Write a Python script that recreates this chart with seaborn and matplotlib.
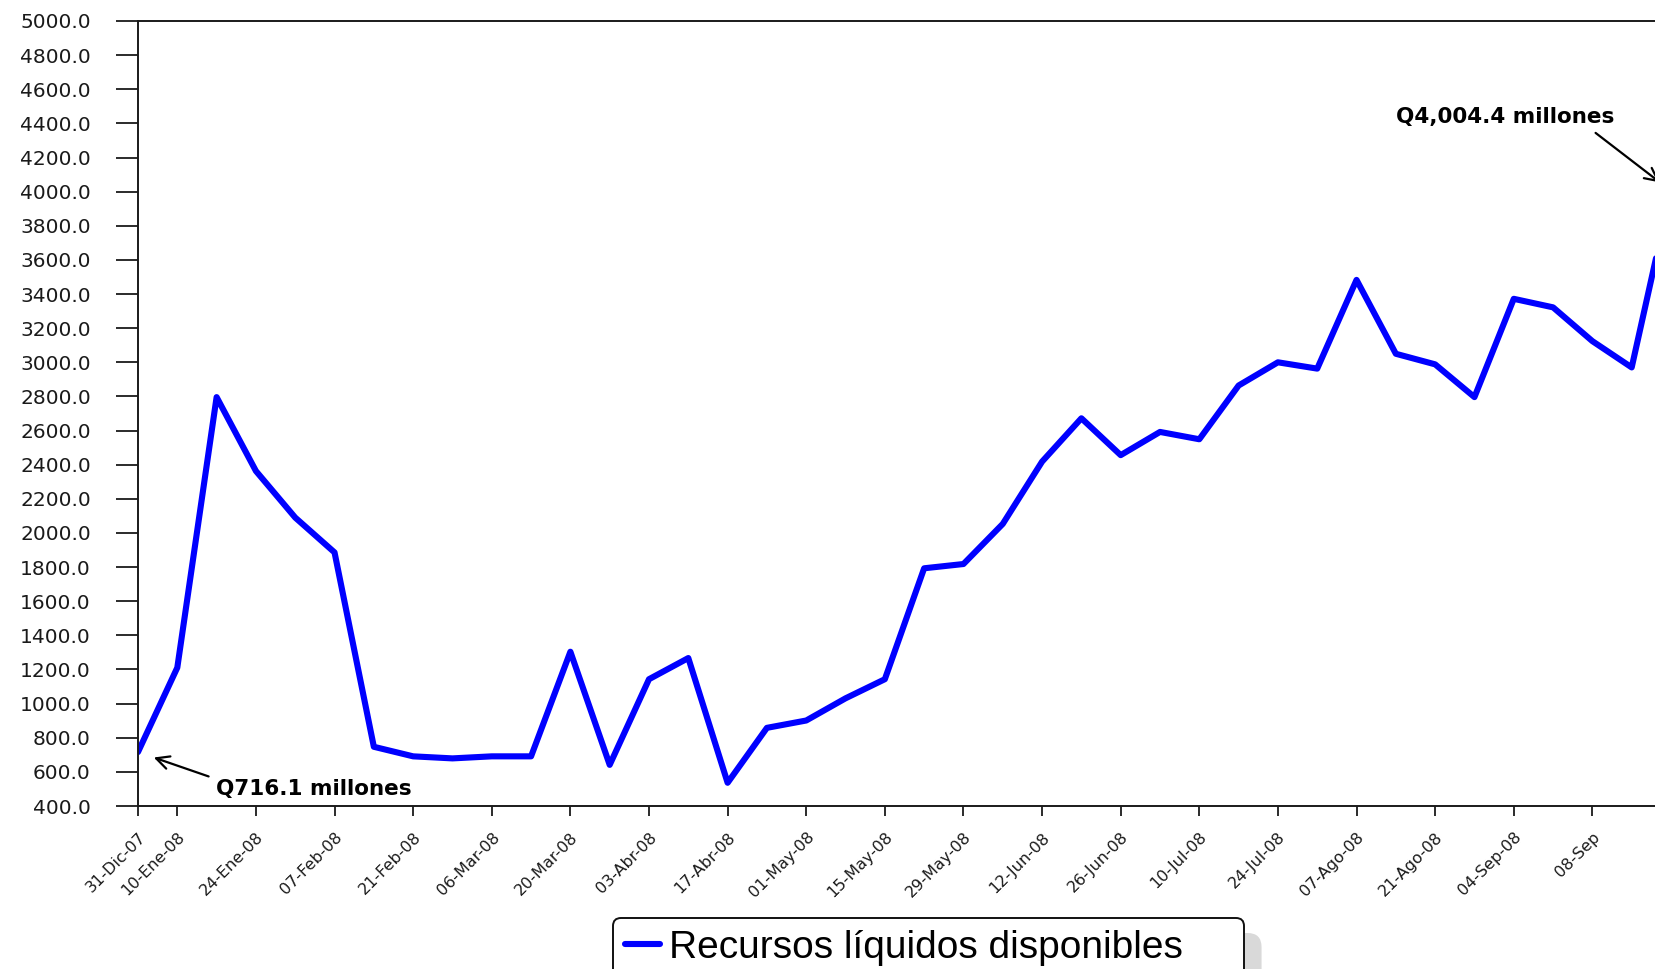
"""
Recursos liquidos disponibles - serie 2008
"""
import matplotlib
matplotlib.use("Agg")
import matplotlib.pyplot as plt
import numpy as np
import pandas as pd
import seaborn as sns
from matplotlib.patches import FancyBboxPatch

# Data (millones de quetzales), one value per observation
valores = [716.1, 1211, 2796, 2363, 2090, 1886, 747, 691, 679, 691,
           691, 1304, 641, 1143, 1267, 536, 858, 901, 1031, 1143,
           1793, 1818, 2053, 2418, 2672, 2456, 2592, 2549, 2864, 3000,
           2963, 3483, 3050, 2988, 2796, 3372, 3322, 3124, 2970, 4004.4]

tick_idx = [0, 1, 3, 5, 7, 9, 11, 13, 15, 17, 19, 21, 23, 25, 27, 29, 31, 33, 35, 37]
tick_labels = ["31-Dic-07", "10-Ene-08", "24-Ene-08", "07-Feb-08", "21-Feb-08",
               "06-Mar-08", "20-Mar-08", "03-Abr-08", "17-Abr-08", "01-May-08",
               "15-May-08", "29-May-08", "12-Jun-08", "26-Jun-08", "10-Jul-08",
               "24-Jul-08", "07-Ago-08", "21-Ago-08", "04-Sep-08", "08-Sep"]

serie = "Recursos líquidos disponibles"

sns.set_theme(style="ticks")
plt.rcParams['font.family'] = ['DejaVu Sans']
plt.rcParams['text.color'] = 'black'

df = pd.DataFrame({"idx": np.arange(len(valores)), "valor": valores})

W, H = 1656, 969
fig = plt.figure(figsize=(W / 100, H / 100), dpi=100)
fig.patch.set_facecolor("white")

# axes run past the right edge, as in the cropped original
ax = fig.add_axes([138 / W, 1 - 806 / H, (1671 - 138) / W, (806 - 21) / H])

sns.lineplot(data=df, x="idx", y="valor", color="#0000FF", linewidth=4.4,
             ax=ax, label=serie)

ax.set_xlim(0, len(valores) - 1)
ax.set_ylim(400, 5000)
ax.set_yticks(np.arange(400, 5001, 200))
ax.set_yticklabels([f"{v:.1f}" for v in np.arange(400, 5001, 200)],
                   fontsize=14.5, color="#1a1a1a")
ax.set_xticks(tick_idx)
ax.set_xticklabels(tick_labels, rotation=45, ha="right", va="top",
                   rotation_mode="anchor", fontsize=11.5, color="#1a1a1a")
ax.set_xlabel("")
ax.set_ylabel("")

for side in ["left", "top", "bottom", "right"]:
    ax.spines[side].set_color("#1a1a1a")
    ax.spines[side].set_linewidth(1.4)

ax.tick_params(axis="y", length=16, width=1.3, pad=18, color="#1a1a1a")
ax.tick_params(axis="x", length=7, width=1.3, pad=10, color="#1a1a1a")

# annotations
ax.annotate("Q716.1 millones", xy=(0, 716.1), xytext=(1.98, 500),
            ha="left", va="center", fontsize=15.5, fontweight="bold", color="black",
            arrowprops=dict(arrowstyle="->,head_length=0.6,head_width=0.3",
                            color="black", lw=1.6, shrinkA=3, shrinkB=12,
                            relpos=(0, 1)))
ax.annotate("Q4,004.4 millones", xy=(39, 4004.4), xytext=(32.0, 4437),
            ha="left", va="center", fontsize=15.5, fontweight="bold", color="black",
            arrowprops=dict(arrowstyle="->,head_length=0.6,head_width=0.3",
                            color="black", lw=1.6, shrinkA=3, shrinkB=10,
                            relpos=(0.88, 0)))

# legend at the bottom, partly cut off
ax.legend_.remove()
leg = fig.legend(loc="upper left", bbox_to_anchor=(613 / W, 1 - 918 / H),
                 frameon=True, fancybox=True, handlelength=0.9, handletextpad=0.25,
                 borderpad=0.3, borderaxespad=0,
                 prop={"family": "Liberation Sans", "size": 28})
leg.get_texts()[0].set_text(serie + "\u2003\u2005")
leg.get_texts()[0].set_color("black")
frame = leg.get_frame()
frame.set_edgecolor("#111111")
frame.set_linewidth(1.4)
frame.set_alpha(1)
for line in leg.get_lines():
    line.set_linewidth(4.4)

# soft grey shadow to the lower right of the legend box
fig.canvas.draw()
bb = frame.get_window_extent()
shadow = FancyBboxPatch((bb.x0 + 18, bb.y0 - 15), bb.width, bb.height,
                        boxstyle="round,pad=0,rounding_size=14",
                        transform=None, facecolor="#d9d9d9", edgecolor="none",
                        zorder=-1)
fig.patches.append(shadow)
leg.set_zorder(5)

fig.savefig("out.png", dpi=100)
plt.close(fig)
